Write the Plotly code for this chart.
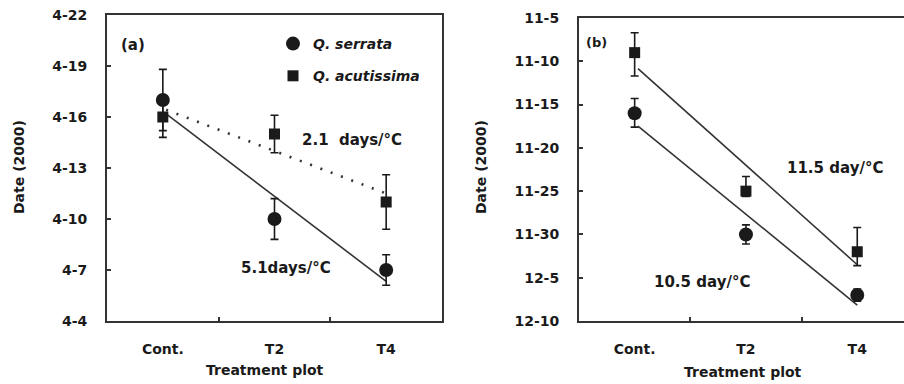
import numpy as np
import plotly.graph_objects as go

# ---------------- data ----------------
categories = ["Cont.", "T2", "T4"]

# Panel (a): spring date, day of April
a_yticks = [4, 7, 10, 13, 16, 19, 22]
a_yticklabels = ["4-4", "4-7", "4-10", "4-13", "4-16", "4-19", "4-22"]
a_serrata = [17.0, 10.0, 7.0]
a_serrata_err = [1.8, 1.2, 0.9]
a_acut = [16.0, 15.0, 11.0]
a_acut_err = [1.2, 1.1, 1.6]
a_serrata_label = "5.1days/°C"
a_acut_label = "2.1  days/°C"

# Panel (b): autumn date, days counted from Oct 31 (11-5 -> 5, 12-10 -> 40)
b_yticks = [5, 10, 15, 20, 25, 30, 35, 40]
b_yticklabels = ["11-5", "11-10", "11-15", "11-20", "11-25", "11-30", "12-5", "12-10"]
b_serrata = [16.0, 30.0, 37.0]
b_serrata_err_plus = [1.6, 1.1, 0.7]
b_serrata_err_minus = [1.7, 1.1, 0.7]
b_acut = [9.0, 25.0, 32.0]
b_acut_err_plus = [2.7, 0.6, 1.6]
b_acut_err_minus = [2.3, 1.7, 2.8]
b_serrata_label = "10.5 day/°C"
b_acut_label = "11.5 day/°C"

species = ["Q. serrata", "Q. acutissima"]
x_title = "Treatment plot"
y_title = "Date (2000)"

# ---------------- figure ----------------
W, H = 904, 384
x = np.arange(1, len(categories) + 1)
FONT = "DejaVu Sans"
INK = "#1a1a1a"


def reg(yv):
    k, b = np.polyfit(x, yv, 1)
    xs = np.array([x[0] + 0.03, x[-1]])
    return xs, k * xs + b


fig = go.Figure()

# ---- panel (a) ----
xs, ys = reg(a_serrata)
fig.add_trace(go.Scatter(x=xs, y=ys, mode="lines", line=dict(color="#333", width=1.6),
                         showlegend=False, xaxis="x", yaxis="y", hoverinfo="skip"))
xs, ys = reg(a_acut)
fig.add_trace(go.Scatter(x=xs, y=ys, mode="lines",
                         line=dict(color="#333", width=2.6, dash="2px,9px"),
                         showlegend=False, xaxis="x", yaxis="y", hoverinfo="skip"))
fig.add_trace(go.Scatter(x=x, y=a_serrata, mode="markers", name=species[0],
                         legendgroup="g1",
                         marker=dict(symbol="circle", size=14, color=INK),
                         error_y=dict(type="data", array=a_serrata_err, color=INK,
                                      thickness=1.6, width=4),
                         xaxis="x", yaxis="y"))
fig.add_trace(go.Scatter(x=x, y=a_acut, mode="markers", name=species[1],
                         legendgroup="g2",
                         marker=dict(symbol="square", size=11, color=INK),
                         error_y=dict(type="data", array=a_acut_err, color=INK,
                                      thickness=1.6, width=4),
                         xaxis="x", yaxis="y"))

# ---- panel (b) ----
xs, ys = reg(b_acut)
fig.add_trace(go.Scatter(x=xs, y=ys, mode="lines", line=dict(color="#333", width=1.6),
                         showlegend=False, xaxis="x2", yaxis="y2", hoverinfo="skip"))
xs, ys = reg(b_serrata)
fig.add_trace(go.Scatter(x=xs, y=ys, mode="lines", line=dict(color="#333", width=1.6),
                         showlegend=False, xaxis="x2", yaxis="y2", hoverinfo="skip"))
fig.add_trace(go.Scatter(x=x, y=b_serrata, mode="markers", showlegend=False,
                         marker=dict(symbol="circle", size=14, color=INK),
                         error_y=dict(type="data", array=b_serrata_err_plus,
                                      arrayminus=b_serrata_err_minus, color=INK,
                                      thickness=1.6, width=4),
                         xaxis="x2", yaxis="y2"))
fig.add_trace(go.Scatter(x=x, y=b_acut, mode="markers", showlegend=False,
                         marker=dict(symbol="square", size=11, color=INK),
                         error_y=dict(type="data", array=b_acut_err_plus,
                                      arrayminus=b_acut_err_minus, color=INK,
                                      thickness=1.6, width=4),
                         xaxis="x2", yaxis="y2"))

tickfont = dict(family=FONT, size=14, color=INK, weight="bold")
titlefont = dict(family=FONT, size=14, color=INK, weight="bold")

common_x = dict(tickmode="array", tickvals=list(x), ticktext=categories,
                ticks="", showgrid=False, zeroline=False, showline=True,
                linecolor="#333", linewidth=2, tickfont=tickfont, automargin=False,
                ticklabelstandoff=14,
                minor=dict(tickmode="array", tickvals=[1.5, 2.5], ticks="inside",
                           ticklen=4, tickcolor="#333", tickwidth=1.5))
common_y = dict(tickmode="array", ticks="inside", ticklen=4, tickcolor="#333",
                tickwidth=1.5, showgrid=False, zeroline=False, showline=True,
                linecolor="#333", linewidth=2, tickfont=tickfont, automargin=False,
                ticklabelstandoff=15)


def py(p):
    return 1 - p / H


fig.update_layout(
    width=W, height=H, margin=dict(l=0, r=0, t=0, b=0),
    paper_bgcolor="white", plot_bgcolor="white",
    xaxis=dict(common_x, domain=[107 / W, 442 / W], range=[0.5, 3.5], mirror=True,
               anchor="y"),
    yaxis=dict(common_y, domain=[py(321), py(15)], range=[4, 22], tickvals=a_yticks,
               ticktext=a_yticklabels, mirror=True, anchor="x"),
    xaxis2=dict(common_x, domain=[579 / W, 1.0], range=[0.5, 3.42], mirror=True,
                anchor="y2"),
    yaxis2=dict(common_y, domain=[py(321), py(18)], range=[40, 5], tickvals=b_yticks,
                ticktext=b_yticklabels, mirror=False, anchor="x2"),
    legend=dict(x=273 / W, y=py(28), xanchor="left", yanchor="top",
                bgcolor="rgba(0,0,0,0)", tracegroupgap=11, itemwidth=30,
                font=dict(family=FONT, size=14, color=INK, style="italic",
                          weight="bold")),
    showlegend=True,
)

ann_font = dict(family=FONT, size=15, color=INK, weight="bold")
anns = [
    dict(text="(a)", xref="paper", yref="paper", x=119 / W, y=py(45), xanchor="left",
         yanchor="middle", showarrow=False,
         font=dict(family=FONT, size=15, color=INK, weight="bold")),
    dict(text="(b)", xref="paper", yref="paper", x=584 / W, y=py(42), xanchor="left",
         yanchor="middle", showarrow=False, font=dict(family=FONT, size=13, color=INK,
                                                         weight="bold")),
    dict(text=a_acut_label, xref="paper", yref="paper", x=300 / W, y=py(140),
         xanchor="left", yanchor="middle", showarrow=False, font=ann_font),
    dict(text=a_serrata_label, xref="paper", yref="paper", x=239 / W, y=py(268),
         xanchor="left", yanchor="middle", showarrow=False, font=ann_font),
    dict(text=b_acut_label, xref="paper", yref="paper", x=785 / W, y=py(168),
         xanchor="left", yanchor="middle", showarrow=False, font=ann_font),
    dict(text=b_serrata_label, xref="paper", yref="paper", x=652 / W, y=py(282),
         xanchor="left", yanchor="middle", showarrow=False, font=ann_font),
    # axis titles
    dict(text=y_title, xref="paper", yref="paper", x=19 / W, y=py(167),
         xanchor="center", yanchor="middle", textangle=-90, showarrow=False,
         font=titlefont),
    dict(text=y_title, xref="paper", yref="paper", x=481 / W, y=py(167),
         xanchor="center", yanchor="middle", textangle=-90, showarrow=False,
         font=titlefont),
    dict(text=x_title, xref="paper", yref="paper", x=265 / W, y=py(370),
         xanchor="center", yanchor="middle", showarrow=False, font=titlefont),
    dict(text=x_title, xref="paper", yref="paper", x=743 / W, y=py(372),
         xanchor="center", yanchor="middle", showarrow=False, font=titlefont),
]
fig.update_layout(annotations=anns)

fig.write_html("out.html", config={"displayModeBar": False},
               post_script="document.body.style.margin='0';"
                           "document.body.style.overflow='hidden';")
